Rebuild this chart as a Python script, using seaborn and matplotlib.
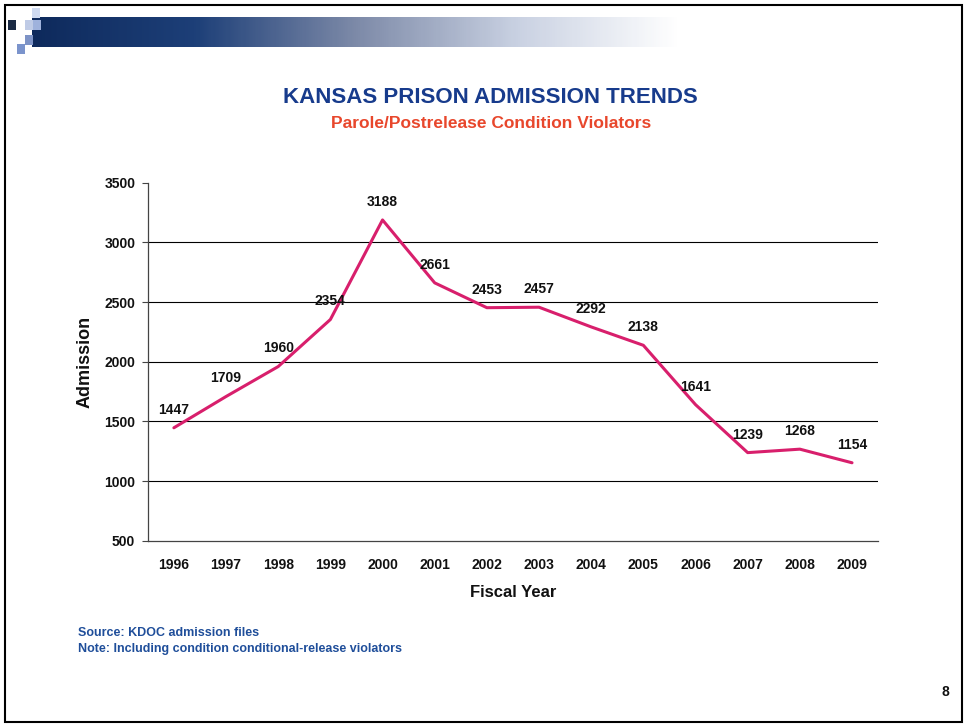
import numpy as np
import pandas as pd
import matplotlib
matplotlib.use("Agg")
import matplotlib.pyplot as plt
import matplotlib.patches as mpatches
from matplotlib.colors import LinearSegmentedColormap
import seaborn as sns

# data
years = ["1996", "1997", "1998", "1999", "2000", "2001", "2002",
         "2003", "2004", "2005", "2006", "2007", "2008", "2009"]
admissions = [1447, 1709, 1960, 2354, 3188, 2661, 2453,
              2457, 2292, 2138, 1641, 1239, 1268, 1154]
y_ticks = [500, 1000, 1500, 2000, 2500, 3000, 3500]

df = pd.DataFrame({"Fiscal Year": years, "Admission": admissions})

sns.set_style("white")
plt.rcParams["font.family"] = ["Liberation Sans", "DejaVu Sans"]
plt.rcParams["text.color"] = "#111111"
plt.rcParams["axes.labelcolor"] = "#111111"
plt.rcParams["xtick.color"] = "#111111"
plt.rcParams["ytick.color"] = "#111111"

fig = plt.figure(figsize=(9.66, 7.25), dpi=100)

# slide frame
frame = fig.add_axes([0, 0, 1, 1], zorder=-5)
frame.set_xlim(0, 966)
frame.set_ylim(725, 0)
frame.axis("off")
frame.add_patch(mpatches.Rectangle((5, 5), 957, 717, fill=False,
                                   edgecolor="black", linewidth=1.5))

# banner gradient
cmap = LinearSegmentedColormap.from_list(
    "banner", ["#0e2a5c", "#1d3f78", "#7d8aa8", "#c9d1e2", "#ffffff"])
grad = np.linspace(0, 1, 300).reshape(1, -1)
frame.imshow(grad, cmap=cmap, extent=(32, 680, 47, 17), aspect="auto")
# little squares at the left
squares = [(8, 20, "#1a2a44"), (25, 20, "#bfcbe6"), (25, 35, "#7e93c6"),
           (17, 44, "#7b94cc"), (32, 8, "#cfdaf0"), (33, 20, "#9fb2dc")]
for sx, sy, sc in squares:
    frame.add_patch(mpatches.Rectangle((sx, sy), 8, 10, color=sc, linewidth=0))

# titles
fig.text(0.508, 0.866, "KANSAS PRISON ADMISSION TRENDS", ha="center",
         va="center", fontsize=16, fontweight="bold", color="#173b8c")
fig.text(0.508, 0.829, "Parole/Postrelease Condition Violators", ha="center",
         va="center", fontsize=12.5, fontweight="bold", color="#e8472c")

# chart
ax = fig.add_axes([0.153, 0.254, 0.756, 0.494])
sns.lineplot(data=df, x="Fiscal Year", y="Admission", ax=ax,
             color="#d81f6c", linewidth=2.2, sort=False)

ax.set_xlim(-0.5, len(years) - 0.5)
ax.set_ylim(500, 3500)
ax.set_yticks(y_ticks)
ax.set_yticklabels([str(t) for t in y_ticks], fontsize=10, fontweight="bold")
for t in y_ticks[1:-1]:
    ax.axhline(t, color="black", linewidth=0.8, zorder=0)

ax.set_xticks(range(len(years)))
ax.set_xticklabels(years, fontsize=10, fontweight="bold")
ax.set_xticks(np.arange(-0.5, len(years), 1.0), minor=True)
ax.tick_params(axis="x", which="major", length=0, pad=12)
ax.tick_params(axis="x", which="minor", length=4, width=0.8, color="#444444",
               direction="out")
ax.tick_params(axis="y", length=4, width=0.8, color="#444444", direction="out",
               left=True, pad=5)

for side in ["top", "right"]:
    ax.spines[side].set_visible(False)
for side in ["left", "bottom"]:
    ax.spines[side].set_color("#444444")
    ax.spines[side].set_linewidth(0.9)

ax.set_xlabel("Fiscal Year", fontsize=12, fontweight="bold", labelpad=10)
ax.set_ylabel("Admission", fontsize=13, fontweight="bold", labelpad=8)

for i, v in enumerate(admissions):
    ax.annotate(str(v), (i, v), xytext=(0, 13), textcoords="offset points",
                ha="center", va="center", fontsize=10, fontweight="bold",
                color="#111111")

# notes
fig.text(0.081, 0.127, "Source: KDOC admission files", fontsize=9,
         fontweight="bold", color="#1f4e9a", va="center")
fig.text(0.081, 0.105, "Note: Including condition conditional-release violators",
         fontsize=9, fontweight="bold", color="#1f4e9a", va="center")
fig.text(0.983, 0.045, "8", fontsize=10, fontweight="bold", ha="right",
         va="center")

fig.savefig("out.png", dpi=100)
